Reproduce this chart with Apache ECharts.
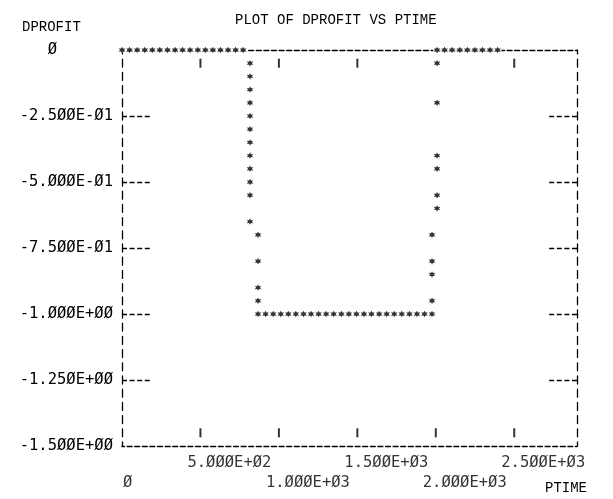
<!DOCTYPE html>
<html><head><meta charset="utf-8">
<script src="https://cdn.jsdelivr.net/npm/echarts@6/dist/echarts.min.js"></script>
<style>html,body{margin:0;padding:0;background:#fff}#c{width:613px;height:499px}</style>
</head><body><div id="c"></div><script>
// ---- data ----
const xMin = 0, xMax = 2900, xStep = 500;
const yMin = -1.5, yMax = 0, yStep = 0.25;
const xLabelValues = [0, 500, 1000, 1500, 2000, 2500];
const xLabelTexts = ['Ø', '5.ØØØE+Ø2', '1.ØØØE+Ø3', '1.5ØØE+Ø3', '2.ØØØE+Ø3', '2.5ØØE+Ø3'];
const xLabelRows = [2, 1, 2, 1, 2, 1];
const yTickValues = [0, -0.25, -0.5, -0.75, -1.0, -1.25, -1.5];
const yTickTexts = ['Ø      ', '-2.5ØØE-Ø1', '-5.ØØØE-Ø1', '-7.5ØØE-Ø1', '-1.ØØØE+ØØ', '-1.25ØE+ØØ', '-1.5ØØE+ØØ'];
const yInnerTicks = [-0.25, -0.5, -0.75, -1.0, -1.25];
const topTickX = [500, 1000, 1500, 2500];
const bottomTickX = [500, 1000, 1500, 2000, 2500];
const topRowY = -0.05, bottomRowY = -1.45;

// DPROFIT vs PTIME points
const topLeftX = [0, 48, 97, 145, 193, 241, 290, 338, 386, 434, 483, 531, 579, 627, 676, 724, 772];
const topLeftY = 0;
const leftUpperX = 816;
const leftUpperY = [-0.05, -0.10, -0.15, -0.20, -0.25, -0.30, -0.35, -0.40, -0.45, -0.50, -0.55, -0.65];
const leftLowerX = 867;
const leftLowerY = [-0.70, -0.80, -0.90, -0.95];
const bottomX = [867, 915, 964, 1012, 1060, 1108, 1157, 1205, 1253, 1301, 1349, 1398, 1446, 1494, 1542, 1590, 1639, 1687, 1735, 1783, 1832, 1880, 1928, 1976];
const bottomY = -1.0;
const rightLowerX = 1976;
const rightLowerY = [-0.95, -0.85, -0.80, -0.70];
const rightUpperX = 2008;
const rightUpperY = [-0.60, -0.55, -0.45, -0.40, -0.20, -0.05];
const topRightX = [2008, 2056, 2104, 2153, 2201, 2249, 2297, 2346, 2394];
const topRightY = 0;

// ---- build ----
const pts = [];
topLeftX.forEach(x => pts.push([x, topLeftY]));
leftUpperY.forEach(y => pts.push([leftUpperX, y]));
leftLowerY.forEach(y => pts.push([leftLowerX, y]));
bottomX.forEach(x => pts.push([x, bottomY]));
rightLowerY.forEach(y => pts.push([rightLowerX, y]));
rightUpperY.forEach(y => pts.push([rightUpperX, y]));
topRightX.forEach(x => pts.push([x, topRightY]));
const borderPts = pts.filter(p => p[1] === 0);

const ticks = [];
topTickX.forEach(x => ticks.push([x, topRowY]));
bottomTickX.forEach(x => ticks.push([x, bottomRowY]));

const monoLab = 'DejaVu Sans Mono';
const monoTxt = 'Liberation Mono';
const labSize = 15.5;

const xLabData = xLabelValues.map((v, i) => ({
  value: [v, yMin],
  label: { offset: [i === 0 ? 1 : -13, xLabelRows[i] === 1 ? 17 : 37] }
}));

const star = 'path://M5 0L6.3 2.75L9.33 2.5L7.6 5L9.33 7.5L6.3 7.25L5 10L3.7 7.25L0.67 7.5L2.4 5L0.67 2.5L3.7 2.75Z';

const hDash = { color: '#000', width: 1.3, type: [5, 2.6], dashOffset: 2.5 };
const vDash = { color: '#000', width: 1.3, type: [8, 5.2], dashOffset: 4 };
const tickDash = { color: '#000', width: 1.3, type: [5, 2.6] };

const chart = echarts.init(document.getElementById('c'), null, { renderer: 'canvas' });
chart.setOption({
  animation: false,
  backgroundColor: '#fff',
  title: {
    text: 'PLOT OF DPROFIT VS PTIME', left: 230, top: 8,
    textStyle: { fontFamily: monoTxt, fontSize: 14, fontWeight: 'normal', color: '#000' }
  },
  graphic: [
    { type: 'text', left: 22, top: 20, style: { text: 'DPROFIT', font: '14px "Liberation Mono"', fill: '#000' } },
    { type: 'text', left: 545, top: 481, style: { text: 'PTIME', font: '14px "Liberation Mono"', fill: '#000' } }
  ],
  grid: { left: 122, right: 36, top: 50, bottom: 53, containLabel: false },
  xAxis: [
    { type: 'value', position: 'bottom', min: xMin, max: xMax, interval: xStep,
      axisLine: { show: true, onZero: false, lineStyle: hDash }, axisTick: { show: false },
      axisLabel: { show: false }, splitLine: { show: false } },
    { type: 'value', position: 'top', min: xMin, max: xMax, interval: xStep,
      axisLine: { show: true, onZero: false, lineStyle: hDash }, axisTick: { show: false },
      axisLabel: { show: false }, splitLine: { show: false } }
  ],
  yAxis: [
    { type: 'value', position: 'left', min: yMin, max: yMax, interval: yStep,
      axisLine: { show: true, onZero: false, lineStyle: vDash },
      axisTick: { show: true, inside: true, length: 30, customValues: yInnerTicks, lineStyle: tickDash },
      axisLabel: { show: true, margin: 9, color: '#000', fontFamily: monoLab, fontSize: labSize,
        formatter: v => { const i = yTickValues.findIndex(t => Math.abs(t - v) < 1e-9); return i >= 0 ? yTickTexts[i] : ''; } },
      splitLine: { show: false } },
    { type: 'value', position: 'right', min: yMin, max: yMax, interval: yStep,
      axisLine: { show: true, onZero: false, lineStyle: vDash },
      axisTick: { show: true, inside: true, length: 30, customValues: yInnerTicks, lineStyle: tickDash },
      axisLabel: { show: false }, splitLine: { show: false } }
  ],
  series: [
    { type: 'scatter', name: 'mask', data: borderPts, symbol: 'rect', symbolSize: [8, 5],
      itemStyle: { color: '#fff' }, silent: true },
    { type: 'scatter', name: 'DPROFIT', data: pts, symbol: star, symbolSize: 6.5,
      itemStyle: { color: '#000' } },
    { type: 'scatter', name: 'ticks', data: ticks, symbol: 'rect', symbolSize: [2, 9],
      itemStyle: { color: '#000' }, silent: true },
    { type: 'scatter', name: 'xlabels', data: xLabData, symbolSize: 0, silent: true,
      label: { show: true, position: 'inside', align: 'left', verticalAlign: 'middle',
        color: '#000', fontFamily: monoLab, fontSize: labSize,
        formatter: p => xLabelTexts[p.dataIndex] } }
  ]
});
</script></body></html>
